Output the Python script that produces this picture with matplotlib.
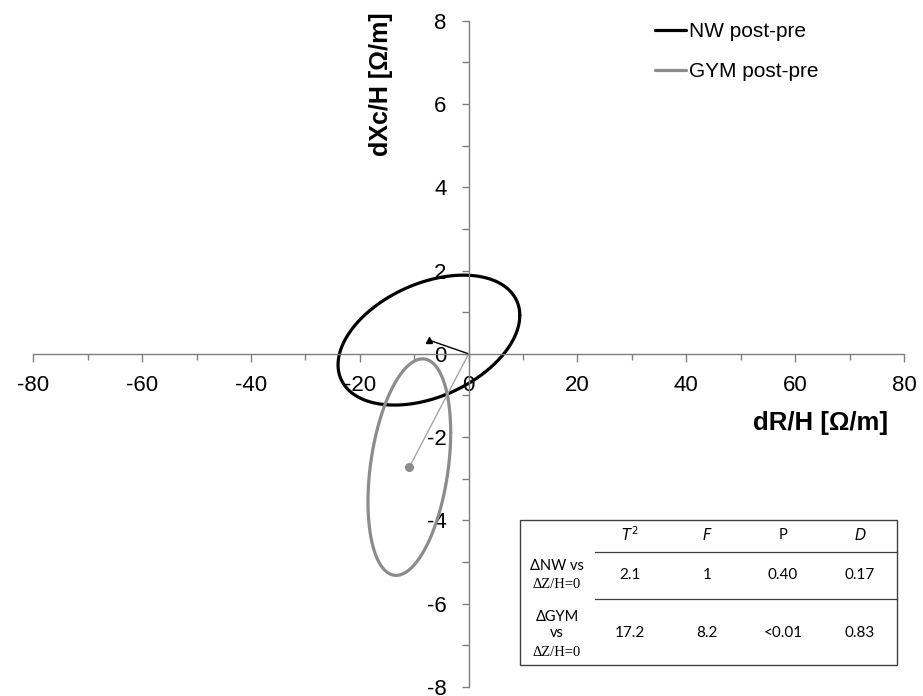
import numpy as np
import matplotlib
matplotlib.use("Agg")
import matplotlib.pyplot as plt
from matplotlib.ticker import MultipleLocator
from matplotlib.lines import Line2D
from matplotlib.patches import Rectangle

plt.rcParams['font.family'] = ['Liberation Sans', 'DejaVu Sans']

# ---------------- data ----------------
series_names = ["NW post-pre", "GYM post-pre"]
# mean vectors (dR/H, dXc/H)
mean_x = [-7.3, -10.9]
mean_y = [0.33, -2.72]
# confidence ellipse: half-range along x, half-range along y, correlation
ell_sx = [16.7, 7.6]
ell_sy = [1.56, 2.6]
ell_rho = [0.38, 0.32]
ell_colors = ["#000000", "#8c8c8c"]
vec_colors = ["#000000", "#a6a6a6"]
markers = ["^", "o"]

x_ticks = [-80, -60, -40, -20, 0, 20, 40, 60, 80]
y_ticks = [-8, -6, -4, -2, 0, 2, 4, 6, 8]

tbl_cols = ["$T^2$", "$F$", "P", "$D$"]
tbl_rows = [["\u0394NW vs", "\u0394Z/H=0"], ["\u0394GYM", "vs", "\u0394Z/H=0"]]
tbl_vals = [["2.1", "1", "0.40", "0.17"], ["17.2", "8.2", "<0.01", "0.83"]]

# ---------------- figure ----------------
W, H = 923, 696
fig = plt.figure(figsize=(W / 100, H / 100), dpi=100)
L, R, T, B = 33.3, 904, 20.7, 687
ax = fig.add_axes([L / W, 1 - B / H, (R - L) / W, (B - T) / H])
ax.set_xlim(-80, 80)
ax.set_ylim(-8, 8)

for sp in ['top', 'right']:
    ax.spines[sp].set_visible(False)
ax.spines['left'].set_position(('data', 0))
ax.spines['bottom'].set_position(('data', 0))
for sp in ['left', 'bottom']:
    ax.spines[sp].set_color('#7f7f7f')
    ax.spines[sp].set_linewidth(1.0)

ax.set_xticks(x_ticks)
ax.set_yticks(y_ticks)
ax.set_xticklabels([str(v) for v in x_ticks])
ax.set_yticklabels([str(v) for v in y_ticks])
ax.xaxis.set_minor_locator(MultipleLocator(10))
ax.yaxis.set_minor_locator(MultipleLocator(1))
ax.tick_params(axis='x', which='major', direction='out', length=6, width=1,
               color='#7f7f7f', labelsize=16, pad=9)
ax.tick_params(axis='x', which='minor', direction='out', length=4.5, width=1, color='#7f7f7f')
ax.tick_params(axis='y', which='major', direction='out', length=5, width=1,
               color='#7f7f7f', labelsize=16, pad=11)
ax.tick_params(axis='y', which='minor', direction='out', length=5, width=1, color='#7f7f7f')

t = np.linspace(0, 2 * np.pi, 400)
handles = []
for i in range(2):
    ex = mean_x[i] + ell_sx[i] * np.cos(t)
    ey = mean_y[i] + ell_sy[i] * (ell_rho[i] * np.cos(t) + np.sqrt(1 - ell_rho[i] ** 2) * np.sin(t))
    h, = ax.plot(ex, ey, color=ell_colors[i], lw=2.3, label=series_names[i],
                 solid_capstyle='round', solid_joinstyle='round')
    handles.append(h)
    ax.plot([0, mean_x[i]], [0, mean_y[i]], color=vec_colors[i], lw=1.0)
    ax.plot([mean_x[i]], [mean_y[i]], marker=markers[i], color=ell_colors[i],
            markersize=4.5 if i == 0 else 5.5, linestyle='none')

ax.text((821 - L) / (R - L), (B - 423) / (B - T), "dR/H [\u03a9/m]", transform=ax.transAxes,
        ha='center', va='center', fontsize=18.5, fontweight='bold')
ax.text((381 - L) / (R - L), (B - 84) / (B - T), "dXc/H [\u03a9/m]", transform=ax.transAxes,
        ha='center', va='center', rotation=90, fontsize=18, fontweight='bold')

leg = ax.legend(handles=handles, loc='upper left',
                bbox_to_anchor=(645 / W, 1 - 12 / H), bbox_transform=fig.transFigure,
                frameon=False, fontsize=15, handlelength=1.45, handletextpad=0.15,
                labelspacing=1.0, borderpad=0.0)
for lh in leg.get_lines():
    lh.set_linewidth(2.3)

# ---------------- table ----------------
def fx(px):
    return px / W

def fy(py):
    return 1 - py / H

fig.patches.append(Rectangle((fx(520), fy(665)), fx(897) - fx(520), fy(520) - fy(665),
                             transform=fig.transFigure, fill=True, facecolor='white',
                             edgecolor='#404040', lw=1.0, zorder=5))
for yy in [552, 599]:
    fig.lines.append(Line2D([fx(595), fx(897)], [fy(yy), fy(yy)], transform=fig.transFigure,
                            color='#404040', lw=0.9, zorder=6))

col_x = [630, 707, 783, 860]
tfont = ['Lato', 'DejaVu Sans']
for cx, c in zip(col_x, tbl_cols):
    fig.text(fx(cx), fy(535), c, ha='center', va='center', fontsize=10.5, family=tfont,
             zorder=7)
row_y = [575, 633]
row_line_y = [[566, 584], [617, 633, 652]]
for r in range(2):
    for k, txt in enumerate(tbl_rows[r]):
        fam = ['Liberation Serif'] if ('Z' in txt) else ['Lato', 'DejaVu Sans']
        fig.text(fx(557), fy(row_line_y[r][k]), txt, ha='center', va='center',
                 fontsize=10.5, family=fam, zorder=7)
    for cx, v in zip(col_x, tbl_vals[r]):
        fig.text(fx(cx), fy(row_y[r]), v, ha='center', va='center', fontsize=11,
                 family=tfont, zorder=7)

fig.savefig("out.png", dpi=100)
